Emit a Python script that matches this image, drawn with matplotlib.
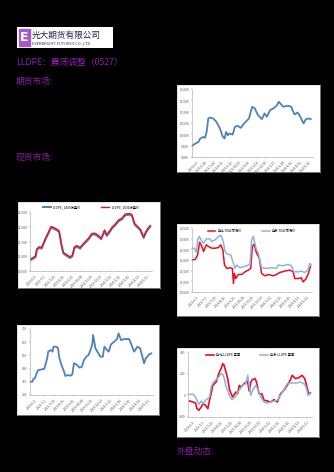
import matplotlib
matplotlib.use("Agg")
import matplotlib.pyplot as plt
from matplotlib.patches import Rectangle

plt.rcParams['font.family'] = ['Noto Sans CJK SC', 'DejaVu Sans']

W, H = 334, 472
PURPLE = '#8b1fa8'
BLUE = '#4f81bd'
RED = '#e8101e'

# ---- data ----
# chart A: futures close (top right)
a_days = [0, 10, 20, 25, 35, 40, 45, 50, 55, 65, 75, 85, 95, 100, 105, 110, 115, 125, 132, 140, 150,
          160, 175, 185, 193, 203, 215, 223, 230, 240, 250, 260, 267, 280, 295, 305, 315, 325, 333,
          343, 350, 360, 365]
a_close = [9488, 9591, 9665, 9813, 9887, 9842, 10108, 10700, 10744, 10700, 10552, 10286, 9887, 9813,
           10108, 9961, 10035, 9990, 10330, 10374, 10286, 10478, 10700, 11217, 11143, 10847, 10670,
           10921, 10773, 11069, 11143, 11261, 11438, 11217, 11261, 11217, 10877, 10965, 10773, 10478,
           10670, 10700, 10670]
a_yticks = [9000, 9500, 10000, 10500, 11000, 11500, 12000]
a_xlabels = ['2013/6/3', '2013/6/28', '2013/7/24', '2013/8/19', '2013/9/12', '2013/10/15',
             '2013/11/8', '2013/12/4', '2013/12/30', '2014/1/27', '2014/2/28', '2014/3/26',
             '2014/4/22', '2014/5/19']

# chart B: two contracts (left middle)
b_days = [0, 10, 17, 20, 27, 35, 43, 50, 55, 63, 70, 80, 87, 95, 100, 110, 120, 127, 133, 140, 150,
          160, 170, 177, 185, 195, 205, 213, 223, 230, 240, 245, 255, 265, 275, 285, 297, 305, 313,
          320, 330, 340, 347, 355, 360]
b_blue = [10862, 10918, 10975, 11201, 11280, 11257, 11483, 11653, 11766, 11969, 11935, 11879, 11822,
          11314, 11088, 11009, 10941, 10997, 11280, 11314, 11257, 11393, 11506, 11596, 11732, 11732,
          11653, 11574, 11845, 11687, 11845, 11935, 12048, 12184, 12251, 12387, 12409, 12364, 12071,
          11992, 11879, 11619, 11800, 11935, 11992]
b_red = [10900, 10960, 11020, 11240, 11320, 11300, 11520, 11700, 11810, 12010, 11980, 11920, 11860,
         11360, 11130, 11050, 10980, 11040, 11320, 11360, 11300, 11430, 11550, 11640, 11770, 11780,
         11700, 11610, 11890, 11730, 11890, 11980, 12090, 12230, 12290, 12430, 12450, 12410, 12110,
         12030, 11920, 11660, 11840, 11980, 12040]
b_yticks = [10500, 11000, 11500, 12000, 12500]
b_names = ['LLDPE_1409收盘价', 'LLDPE_1501收盘价']
b_xlabels = ['2013/6/3', '2013/7/1', '2013/7/29', '2013/8/26', '2013/9/25', '2013/10/28',
             '2013/11/25', '2013/12/23', '2014/1/22', '2014/2/26', '2014/3/25', '2014/4/23',
             '2014/5/21']

# chart C: spot prices (right middle)
c_red_days = [0, 10, 17, 23, 30, 35, 43, 50, 60, 70, 80, 87, 93, 98, 105, 115, 122, 125, 128, 132,
              140, 150, 160, 170, 177, 182, 187, 195, 203, 210, 220, 230, 245, 255, 265, 280, 295,
              305, 310, 320, 330, 335, 343, 350, 357]
c_red = [12000, 12032, 12237, 12837, 12632, 12395, 12711, 12632, 12553, 12553, 12584, 12711, 12474,
         11763, 11605, 11637, 11605, 10895, 11368, 11132, 11321, 11321, 11447, 11526, 11605, 12632,
         12742, 12316, 12079, 11368, 11258, 11321, 11258, 11321, 11416, 11479, 11526, 11447, 11132,
         11132, 11163, 10974, 11100, 11321, 11684]
c_blue_days = [0, 7, 13, 17, 22, 30, 35, 43, 53, 60, 70, 80, 87, 93, 100, 107, 117, 125, 130, 135,
               145, 155, 165, 175, 180, 185, 193, 200, 210, 225, 240, 255, 260, 275, 290, 300, 307,
               320, 330, 340, 350, 355, 360]
c_blue = [12553, 12553, 12363, 12947, 13105, 12868, 12789, 12995, 12995, 12868, 12947, 13105, 13153,
          12947, 12395, 12268, 12237, 11842, 11605, 11763, 11637, 11684, 11732, 11795, 12947, 13105,
          12553, 12316, 11637, 11605, 11637, 11605, 11763, 11732, 11795, 11732, 11447, 11447, 11479,
          11416, 11526, 11842, 11763]
c_yticks = [10500, 11000, 11500, 12000, 12500, 13000, 13500]
c_names = ['华北:7042市场价', '华东:7042市场价']
c_xlabels = b_xlabels

# chart D: spread (left lower)
d_days = [0, 7, 10, 15, 20, 25, 35, 43, 47, 52, 55, 63, 68, 71, 80, 85, 88, 92, 97, 103, 107, 115,
          123, 128, 133, 140, 150, 157, 163, 170, 177, 183, 188, 191, 193, 198, 205, 213, 220, 225,
          233, 238, 245, 255, 263, 268, 275, 285, 300, 307, 315, 325, 333, 340, 345, 350, 355, 360, 367]
d_spread = [300, 300, 321, 326, 364, 389, 394, 397, 432, 478, 528, 541, 528, 566, 566, 553, 490, 453,
            415, 377, 344, 351, 346, 356, 440, 432, 407, 415, 465, 490, 503, 541, 579, 654, 624, 553,
            523, 490, 490, 566, 541, 528, 584, 604, 624, 667, 616, 624, 624, 579, 528, 566, 553, 490,
            440, 478, 490, 508, 515]
d_yticks = [200, 300, 400, 500, 600, 700]
d_xlabels = b_xlabels

# chart E: basis (right lower)
e_red_days = [5, 15, 23, 27, 33, 40, 45, 53, 60, 65, 70, 75, 85, 93, 100, 105, 108, 115, 120, 125,
              130, 135, 145, 150, 155, 160, 170, 180, 185, 190, 195, 203, 207, 215, 223, 230, 240,
              250, 260, 270, 280, 290, 300, 310, 315, 325, 335, 345, 353, 360, 365, 370]
e_red = [-52, -62, -71, -123, -138, -108, -77, -92, -123, -46, 15, 92, 123, 200, 246, 292, 286, 215,
         154, 62, 15, -15, 31, 15, 92, 77, 108, 132, 40, 123, 145, 154, 123, 15, 15, -46, -52, -62,
         -40, -62, 15, 46, 92, 145, 185, 154, 163, 185, 154, 77, 9, 22]
e_blue_days = [5, 15, 23, 27, 33, 40, 45, 53, 60, 65, 70, 75, 85, 93, 100, 105, 110, 115, 120, 125,
               133, 140, 145, 150, 155, 165, 175, 181, 185, 190, 195, 205, 213, 220, 230, 240, 250,
               260, 270, 280, 290, 300, 310, 320, 330, 340, 350, 357, 363, 370]
e_blue = [9, 9, -15, -46, -83, -52, -77, -46, -31, -15, 77, 114, 145, 169, 200, 194, 154, 77, 46, 0,
          -40, -22, -9, 31, 46, 92, 108, 185, 92, 0, 46, 92, 46, -15, -62, -71, -62, -52, -46, 0, 52,
          108, 114, 114, 114, 123, 108, 77, 0, 15]
e_yticks = [-200, 0, 200, 400]
e_names = ['华北 LLDPE 基差', '华东 LLDPE 基差']
e_xlabels = b_xlabels


def rect(x0, y0, x1, y1):
    # pixel box (top-left origin) -> figure fraction
    return [x0 / W, 1 - y1 / H, (x1 - x0) / W, (y1 - y0) / H]


def panel(fig, box):
    ax = fig.add_axes(rect(*box))
    ax.set_facecolor('white')
    ax.set_xticks([]); ax.set_yticks([])
    for s in ax.spines.values():
        s.set_color('#d0d0d0'); s.set_linewidth(0.4)
    return ax


def plot_area(fig, box, yticks, xmax, xlabels):
    ax = fig.add_axes(rect(*box))
    ax.set_facecolor('none')
    ax.set_ylim(yticks[0], yticks[-1])
    ax.set_xlim(0, xmax)
    ax.set_yticks(yticks)
    ax.set_yticklabels([f'{v:,}' for v in yticks])
    step = xmax / len(xlabels)
    ax.set_xticks([step * (i + 0.5) for i in range(len(xlabels))])
    ax.set_xticklabels(xlabels, rotation=45, ha='right', rotation_mode='anchor')
    ax.tick_params(labelsize=2.3, colors='#555555', length=1, width=0.3, pad=1)
    for s in ['top', 'right']:
        ax.spines[s].set_visible(False)
    for s in ['left', 'bottom']:
        ax.spines[s].set_color('#a0a0a0'); ax.spines[s].set_linewidth(0.4)
    return ax


fig = plt.figure(figsize=(W / 100, H / 100), dpi=100)
fig.patch.set_facecolor('black')

# logo
logo = fig.add_axes(rect(17, 27, 113, 48))
logo.set_xlim(0, 96); logo.set_ylim(21, 0)
logo.set_facecolor('white')
logo.set_xticks([]); logo.set_yticks([])
for s in logo.spines.values():
    s.set_visible(False)
logo.add_patch(Rectangle((1.5, 2), 11, 17, color='#a35cc4'))
logo.text(7, 10.5, 'E', color='white', fontsize=9, fontweight='bold', ha='center', va='center',
          family=['DejaVu Sans'])
logo.text(15, 8, '光大期货有限公司', fontsize=6.2, color='#1f1f5a', va='center', ha='left')
logo.text(15, 16.5, 'EVERBRIGHT FUTURES CO.,LTD', fontsize=2.9, color='#333366', va='center', ha='left')

# page text
fig.text(16 / W, 1 - 62 / H, 'LLDPE：震荡调整（0527）', color=PURPLE, fontsize=6.3, va='center')
fig.text(16 / W, 1 - 81 / H, '期货市场:', color=PURPLE, fontsize=6.3, va='center')
fig.text(16 / W, 1 - 157 / H, '现货市场:', color=PURPLE, fontsize=6.3, va='center')
fig.text(177 / W, 1 - 451 / H, '外盘动态:', color=PURPLE, fontsize=6.3, va='center')

# chart A
panel(fig, (177, 85, 320, 172))
ax = plot_area(fig, (192, 89, 313, 157), a_yticks, 372, a_xlabels)
ax.plot(a_days, a_close, color=BLUE, lw=1.3)

# chart B
panel(fig, (18, 202, 160, 288))
ax = plot_area(fig, (30, 212, 152, 271), b_yticks, 365, b_xlabels)
ax.plot(b_days, b_blue, color=BLUE, lw=1.4, label=b_names[0])
ax.plot(b_days, b_red, color=RED, lw=1.0, label=b_names[1])
ax.legend(loc='lower center', bbox_to_anchor=(0.5, 1.02), ncol=2, fontsize=2.3, frameon=False,
          handlelength=2.5, columnspacing=6, borderaxespad=0)

# chart C
panel(fig, (177, 224, 319, 316))
ax = plot_area(fig, (192, 228, 312, 292), c_yticks, 362, c_xlabels)
ax.plot(c_red_days, c_red, color=RED, lw=1.1, label=c_names[0])
ax.plot(c_blue_days, c_blue, color='#8db3e2', lw=1.1, label=c_names[1])
ax.legend(loc='upper center', bbox_to_anchor=(0.5, 1.0), ncol=2, fontsize=2.3, frameon=False,
          handlelength=2.5, columnspacing=6, borderaxespad=0)

# chart D
panel(fig, (17, 325, 159, 415))
ax = plot_area(fig, (30, 329, 153, 395), d_yticks, 372, d_xlabels)
ax.plot(d_days, d_spread, color=BLUE, lw=1.3)

# chart E
panel(fig, (177, 348, 319, 437))
ax = plot_area(fig, (188, 352, 312, 417), e_yticks, 375, e_xlabels)
ax.plot(e_red_days, e_red, color=RED, lw=1.2, label=e_names[0])
ax.plot(e_blue_days, e_blue, color='#8db3e2', lw=1.1, label=e_names[1])
ax.legend(loc='upper center', bbox_to_anchor=(0.5, 1.0), ncol=2, fontsize=2.3, frameon=False,
          handlelength=2.5, columnspacing=6, borderaxespad=0)

fig.savefig('out.png', dpi=100, facecolor='black')
